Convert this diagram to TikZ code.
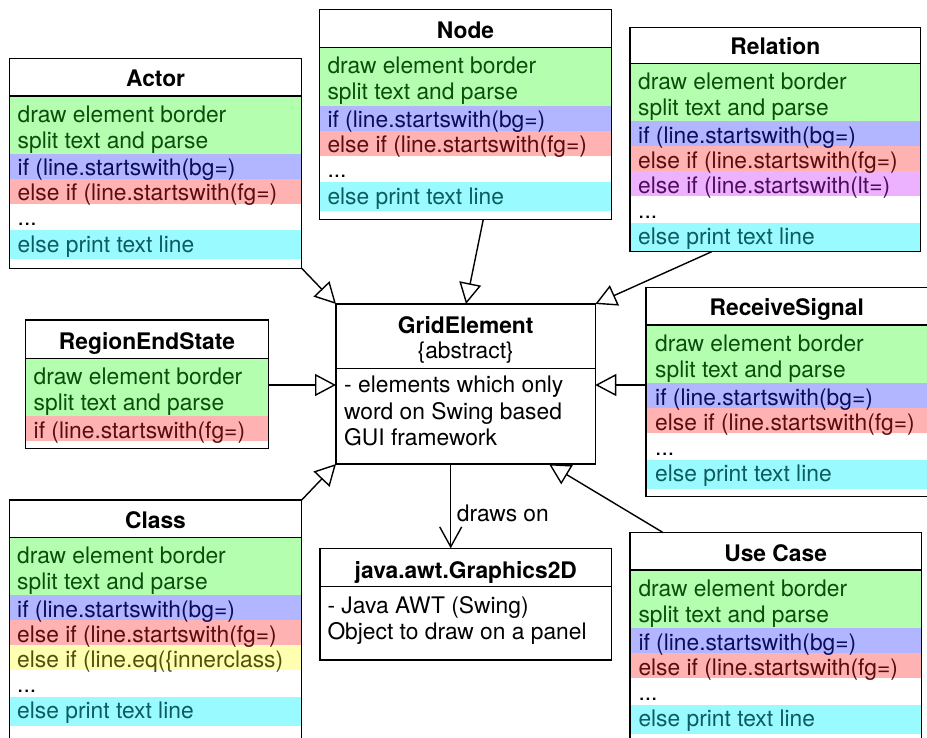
\documentclass[tikz,border=0pt]{standalone}
\usepackage{fontspec}
\setmainfont{TeX Gyre Heros}
\usetikzlibrary{arrows.meta,calc}
\pgfdeclarelayer{bands}
\pgfsetlayers{bands,main}

% row colours: fill and text tint
\definecolor{gbg}{RGB}{180,255,175}
\definecolor{gfg}{RGB}{12,77,12}
\definecolor{bbg}{RGB}{178,181,255}
\definecolor{bfg}{RGB}{12,12,90}
\definecolor{rbg}{RGB}{255,178,178}
\definecolor{rfg}{RGB}{92,12,12}
\definecolor{pbg}{RGB}{236,178,255}
\definecolor{pfg}{RGB}{80,12,92}
\definecolor{ybg}{RGB}{255,255,178}
\definecolor{yfg}{RGB}{80,80,12}
\definecolor{cbg}{RGB}{153,250,255}
\definecolor{cfg}{RGB}{12,92,95}

\tikzset{
  umlframe/.style={draw, line width=1.5pt, inner sep=0pt, outer sep=0pt},
  umlline/.style={line width=1.5pt},
  rowtext/.style={anchor=base west, inner sep=0pt, font=\fontsize{22.8}{26}\selectfont},
  titletext/.style={anchor=base, inner sep=0pt, font=\fontsize{22.8}{26}\selectfont\bfseries},
  plaintext/.style={anchor=base, inner sep=0pt, font=\fontsize{22.8}{26}\selectfont},
  inherit/.style={line width=1.4pt, -{Triangle[open, length=21pt, width=22pt]}},
  drawson/.style={line width=1.4pt, -{Straight Barb[length=20pt, width=22pt]}}
}

% frame box: name, left, top, right, bottom, separator, title
\newcommand{\umlbox}[7]{%
  \node[umlframe, minimum width={#4-#2}, minimum height={#5-#3}, anchor=north west] (#1) at (#2,#3) {};
  \draw[umlline] (#2,#6) -- (#4,#6);
  \node[titletext] (#1-title) at ({(#2+#4)/2},#6-9) {#7};
}
% coloured band: left, right, top, bottom, colour
\newcommand{\umlband}[5]{%
  \begin{pgfonlayer}{bands}\fill[#5] (#1,#3) rectangle (#2,#4);\end{pgfonlayer}}
% one text line: name, x, baseline, colour, text
\newcommand{\umltext}[5]{\node[rowtext, text=#4] (#1) at (#2,#3+1) {#5};}

\begin{document}
\begin{tikzpicture}[x=1pt, y=-1pt]
\useasboundingbox (0,0) rectangle (927,738);
\clip (0,0) rectangle (927,738);
\begin{pgfonlayer}{bands}
  \fill[white] (0,0) rectangle (927,738);
\end{pgfonlayer}

% ---------- Actor ----------
\umlband{9.5}{301.7}{96}{154}{gbg}
\umlband{9.5}{301.7}{154}{179}{bbg}
\umlband{9.5}{301.7}{179}{204}{rbg}
\umlband{9.5}{301.7}{230.5}{259.5}{cbg}
\umlbox{actor}{9.5}{58.3}{301.7}{268.3}{96}{Actor}
\umltext{actor-1}{17.5}{121.2}{gfg}{draw element border}
\umltext{actor-2}{17.5}{147.2}{gfg}{split text and parse}
\umltext{actor-3}{17.5}{175}{bfg}{if (line.startswith(bg=)}
\umltext{actor-4}{17.5}{200}{rfg}{else if (line.startswith(fg=)}
\umltext{actor-5}{17.5}{225}{black}{...}
\umltext{actor-6}{17.5}{251.5}{cfg}{else print text line}

% ---------- Node ----------
\umlband{319.3}{611.7}{47.7}{105.7}{gbg}
\umlband{319.3}{611.7}{105.7}{130.7}{bbg}
\umlband{319.3}{611.7}{130.7}{155.7}{rbg}
\umlband{319.3}{611.7}{182.2}{211.2}{cbg}
\umlbox{nodebox}{319.3}{9.3}{611.7}{219.3}{47.7}{Node}
\umltext{nodebox-1}{327.3}{72.9}{gfg}{draw element border}
\umltext{nodebox-2}{327.3}{98.9}{gfg}{split text and parse}
\umltext{nodebox-3}{327.3}{126.7}{bfg}{if (line.startswith(bg=)}
\umltext{nodebox-4}{327.3}{151.7}{rfg}{else if (line.startswith(fg=)}
\umltext{nodebox-5}{327.3}{176.7}{black}{...}
\umltext{nodebox-6}{327.3}{203.2}{cfg}{else print text line}

% ---------- Relation ----------
\umlband{630}{920.7}{63.3}{121.3}{gbg}
\umlband{630}{920.7}{121.3}{146.3}{bbg}
\umlband{630}{920.7}{146.3}{171.3}{rbg}
\umlband{630}{920.7}{171.3}{196.3}{pbg}
\umlband{630}{920.7}{222.8}{251.7}{cbg}
\umlbox{relation}{630}{27.3}{920.7}{251.7}{63.3}{Relation}
\umltext{relation-1}{638}{88.5}{gfg}{draw element border}
\umltext{relation-2}{638}{114.5}{gfg}{split text and parse}
\umltext{relation-3}{638}{142.3}{bfg}{if (line.startswith(bg=)}
\umltext{relation-4}{638}{167.3}{rfg}{else if (line.startswith(fg=)}
\umltext{relation-5}{638}{192.3}{pfg}{else if (line.startswith(lt=)}
\umltext{relation-6}{638}{217.3}{black}{...}
\umltext{relation-7}{638}{243.8}{cfg}{else print text line}

% ---------- RegionEndState ----------
\umlband{25.7}{268.3}{358.3}{416.3}{gbg}
\umlband{25.7}{268.3}{416.3}{441.3}{rbg}
\umlbox{region}{25.7}{320}{268.3}{448.3}{358.3}{RegionEndState}
\umltext{region-1}{33.5}{383.5}{gfg}{draw element border}
\umltext{region-2}{33.5}{409.5}{gfg}{split text and parse}
\umltext{region-3}{33.5}{437.3}{rfg}{if (line.startswith(fg=)}

% ---------- ReceiveSignal ----------
\umlband{646}{927.5}{325}{383}{gbg}
\umlband{646}{927.5}{383}{408}{bbg}
\umlband{646}{927.5}{408}{433}{rbg}
\umlband{646}{927.5}{459.5}{488.5}{cbg}
\umlbox{receive}{646}{287.3}{927.5}{496.7}{325}{ReceiveSignal}
\umltext{receive-1}{655}{350.2}{gfg}{draw element border}
\umltext{receive-2}{655}{376.2}{gfg}{split text and parse}
\umltext{receive-3}{655}{404}{bfg}{if (line.startswith(bg=)}
\umltext{receive-4}{655}{429}{rfg}{else if (line.startswith(fg=)}
\umltext{receive-5}{655}{454}{black}{...}
\umltext{receive-6}{655}{480.5}{cfg}{else print text line}

% ---------- Class ----------
\umlband{9.3}{301.7}{537.3}{595.3}{gbg}
\umlband{9.3}{301.7}{595.3}{620.3}{bbg}
\umlband{9.3}{301.7}{620.3}{645.3}{rbg}
\umlband{9.3}{301.7}{645.3}{670.3}{ybg}
\umlband{9.3}{301.7}{696.8}{725.8}{cbg}
\umlbox{classbox}{9.3}{500}{301.7}{760}{537.3}{Class}
\umltext{classbox-1}{17}{562.5}{gfg}{draw element border}
\umltext{classbox-2}{17}{588.5}{gfg}{split text and parse}
\umltext{classbox-3}{17}{616.3}{bfg}{if (line.startswith(bg=)}
\umltext{classbox-4}{17}{641.3}{rfg}{else if (line.startswith(fg=)}
\umltext{classbox-5}{17}{666.3}{yfg}{else if (line.eq(\{innerclass)}
\umltext{classbox-6}{17}{691.3}{black}{...}
\umltext{classbox-7}{17}{717.8}{cfg}{else print text line}

% ---------- Use Case ----------
\umlband{630}{921.3}{570}{628}{gbg}
\umlband{630}{921.3}{628}{653}{bbg}
\umlband{630}{921.3}{653}{678}{rbg}
\umlband{630}{921.3}{704.5}{733.5}{cbg}
\umlbox{usecase}{630}{532.7}{921.3}{760}{570}{Use Case}
\umltext{usecase-1}{638.3}{595.2}{gfg}{draw element border}
\umltext{usecase-2}{638.3}{621.2}{gfg}{split text and parse}
\umltext{usecase-3}{638.3}{649}{bfg}{if (line.startswith(bg=)}
\umltext{usecase-4}{638.3}{674}{rfg}{else if (line.startswith(fg=)}
\umltext{usecase-5}{638.3}{699}{black}{...}
\umltext{usecase-6}{638.3}{725.5}{cfg}{else print text line}

% ---------- GridElement ----------
\node[umlframe, minimum width=259.3, minimum height=160, anchor=north west] (grid) at (336,304) {};
\draw[umlline] (336,368.3) -- (595.3,368.3);
\node[titletext] (grid-title) at (465.7,333.7) {GridElement};
\node[plaintext] (grid-abstract) at (465.7,359) {\{abstract\}};
\umltext{grid-1}{344}{391.7}{black}{- elements which only}
\umltext{grid-2}{344}{418.3}{black}{word on Swing based}
\umltext{grid-3}{344}{444}{black}{GUI framework}

% ---------- java.awt.Graphics2D ----------
\node[umlframe, minimum width=291.7, minimum height=111.7, anchor=north west] (g2d) at (320,548.3) {};
\draw[umlline] (320,586.7) -- (611.7,586.7);
\node[titletext] (g2d-title) at (465.8,578.2) {java.awt.Graphics2D};
\umltext{g2d-1}{327.3}{612.5}{black}{- Java AWT (Swing)}
\umltext{g2d-2}{327.3}{638}{black}{Object to draw on a panel}

% ---------- connectors ----------
\draw[inherit] (actor.south east) -- (grid.north west);
\draw[inherit] ($(nodebox.south west)+(164,0)$) -- ($(grid.north west)+(130,0)$);
\draw[inherit] ($(relation.south west)+(81.7,0)$) -- (grid.north east);
\draw[inherit] (receive.west |- 0,385) -- (grid.east |- 0,385);
\draw[inherit] (region.east |- 0,385) -- (grid.west |- 0,385);
\draw[inherit] (classbox.north east) -- (grid.south west);
\draw[inherit] ($(usecase.north west)+(33.3,0)$) -- ($(grid.south west)+(213,0)$);
\draw[drawson] ($(grid.south west)+(114.7,0)$) -- ($(g2d.north west)+(130.7,0)$);
\node[rowtext] (drawson-label) at (456.7,521) {draws on};
\end{tikzpicture}
\end{document}
